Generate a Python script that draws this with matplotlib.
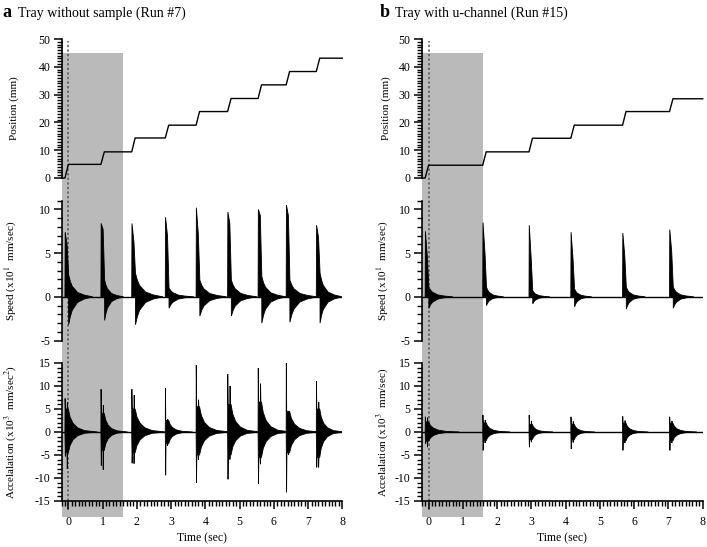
import numpy as np
import matplotlib.pyplot as plt
from matplotlib.ticker import MultipleLocator

plt.rcParams['font.family'] = ['Liberation Serif', 'DejaVu Serif']
plt.rcParams['mathtext.fontset'] = 'stix'
plt.rcParams['axes.unicode_minus'] = False

# (a) tray without sample, run #7 -- one entry per move of the tray
a_onset = [-0.1, 0.95, 1.85, 2.83, 3.73, 4.65, 5.54, 6.36, 7.24]
a_pos = [4.9, 9.4, 14.4, 19.0, 23.9, 28.6, 33.5, 38.3, 43.1]
a_spd_peak = [7.4, 8.4, 8.4, 9.1, 10.2, 9.7, 10.0, 10.5, 8.2]
a_spd_shoulder = [5.9, 7.7, 6.3, 7.0, 7.2, 8.4, 9.3, 9.3, 6.8]
a_spd_ring_up = [2.5, 1.9, 2.7, 1.0, 1.9, 1.9, 2.3, 1.9, 2.7]
a_spd_ring_dn = [-3.2, -2.7, -3.2, -1.3, -2.2, -2.2, -3.0, -2.9, -3.0]
a_spd_ring_len = [0.7, 0.55, 0.8, 0.73, 0.78, 0.75, 0.71, 0.8, 0.64]
a_acc_peak_up = [7.3, 9.3, 9.3, 9.5, 14.5, 12.6, 13.9, 15.0, 11.0]
a_acc_peak2_up = [6.5, 5.8, 8.0, 2.8, 7.0, 10.0, 10.5, 4.5, 6.5]
a_acc_peak_dn = [-5.3, -7.3, -6.8, -9.4, -11.0, -10.3, -11.3, -13.1, -7.7]
a_acc_peak2_dn = [-8.0, -8.2, -6.9, -3.0, -6.0, -6.0, -7.0, -5.0, -7.7]
a_acc_bulk_up = [5.0, 4.0, 5.0, 2.5, 5.5, 6.0, 6.5, 4.5, 5.0]
a_acc_bulk_dn = [-4.5, -4.0, -4.5, -2.5, -5.0, -5.0, -5.5, -4.5, -5.5]
a_acc_len = [0.85, 0.68, 0.9, 0.7, 0.9, 0.85, 0.85, 0.9, 0.72]

# (b) tray with u-channel, run #15
b_onset = [-0.1, 1.58, 2.93, 4.15, 5.66, 7.03]
b_pos = [4.6, 9.4, 14.3, 19.0, 23.9, 28.5]
b_spd_peak = [7.5, 8.5, 8.2, 7.4, 7.3, 7.7]
b_spd_shoulder = [4.5, 5.1, 4.3, 4.3, 4.7, 5.1]
b_spd_ring_up = [1.1, 1.1, 0.7, 0.9, 1.1, 1.1]
b_spd_ring_dn = [-1.3, -1.0, -0.8, -1.15, -1.4, -1.3]
b_spd_ring_len = [0.7, 0.5, 0.5, 0.5, 0.55, 0.6]
b_acc_peak_up = [3.3, 3.7, 3.7, 3.3, 3.4, 3.3]
b_acc_peak2_up = [3.1, 2.6, 2.4, 2.3, 2.5, 2.4]
b_acc_peak_dn = [-2.5, -4.0, -3.3, -3.7, -4.0, -4.0]
b_acc_peak2_dn = [-3.3, -2.4, -2.2, -2.3, -2.4, -2.4]
b_acc_bulk_up = [2.2, 2.0, 1.6, 1.7, 1.9, 1.9]
b_acc_bulk_dn = [-2.0, -1.9, -1.6, -1.7, -1.9, -1.9]
b_acc_len = [0.9, 0.7, 0.6, 0.6, 0.65, 0.7]

spd_decay_t = [0, 0.07, 0.15, 0.37, 0.65, 1.0]
spd_decay_f = [1, 0.7, 0.48, 0.2, 0.08, 0]
acc_decay_t = [0, 0.06, 0.16, 0.32, 0.56, 1.0]
acc_decay_f = [1, 0.65, 0.38, 0.18, 0.06, 0]

T0, T1 = -0.2, 8
RAMP = 0.1


def style_axis(ax, ylim, major, bottom=False):
    ax.set_facecolor('none')
    ax.set_xlim(T0, T1)
    ax.set_ylim(*ylim)
    ax.spines[['top', 'right']].set_visible(False)
    ax.spines['left'].set_linewidth(1.2)
    ax.yaxis.set_major_locator(MultipleLocator(major))
    ax.yaxis.set_minor_locator(MultipleLocator(1))
    ax.tick_params(axis='y', which='major', length=6, width=1.1, labelsize=8.5, pad=2)
    ax.tick_params(axis='y', which='minor', length=3.5, width=1.0)
    if bottom:
        ax.spines['bottom'].set_linewidth(1.2)
        ax.xaxis.set_major_locator(MultipleLocator(1))
        ax.xaxis.set_minor_locator(MultipleLocator(0.1))
        ax.tick_params(axis='x', which='major', length=6, width=1.1, labelsize=8.5, pad=5)
        ax.tick_params(axis='x', which='minor', length=3.5, width=1.0)
    else:
        ax.spines['bottom'].set_visible(False)
        ax.set_xticks([])


def draw_column(x0, w, title_x, letter, title, onset, pos, spk, shd, rup, rdn, rlen,
                apk_up, apk2_up, apk_dn, apk2_dn, abulk_up, abulk_dn, alen, acc_unit, lab_x):
    W, H = 707, 547
    bg = fig.add_axes([x0, 1 - 517 / H, w, (517 - 39) / H], zorder=0)
    bg.set_xlim(T0, T1)
    bg.set_ylim(0, 1)
    bg.axis('off')
    bg.axvspan(T0, 1.6, ymin=0, ymax=0.970, color='#bababa', lw=0)
    bg.axvline(0, ymin=0.0146, ymax=0.995, color='#555555', lw=1.1, ls=(0, (1.5, 1.5)))

    ax_p = fig.add_axes([x0, 0.6746, w, 0.2541], zorder=1)
    ax_s = fig.add_axes([x0, 0.3775, w, 0.2556], zorder=1)
    ax_a = fig.add_axes([x0, 0.0841, w, 0.2523], zorder=1)

    # position: staircase
    tp, yp, prev = [T0], [0], 0
    for t, lev in zip(onset, pos):
        tp += [t, t + RAMP]
        yp += [prev, lev]
        prev = lev
    tp.append(T1)
    yp.append(prev)
    ax_p.plot(tp, yp, color='black', lw=1.0, clip_on=False)

    # speed: spike then ringing
    ax_s.plot([T0, T1], [0, 0], color='black', lw=1.0)
    for t, pk, sh, up, dn, ln in zip(onset, spk, shd, rup, rdn, rlen):
        start = t + 0.11
        tu = [t, t, t + 0.008, t + 0.065, start]
        hu = [0, 0, pk, sh, up]
        tl = [t, start - 0.002, start]
        hl = [0, 0, dn]
        for r, f in zip(spd_decay_t[1:], spd_decay_f[1:]):
            tu.append(start + r * ln)
            hu.append(up * f)
            tl.append(start + r * ln)
            hl.append(dn * f)
        ax_s.fill(tu + tl[::-1], hu + hl[::-1], color='black', lw=0.6)

    # acceleration: two tall spikes then ringing
    ax_a.plot([T0, T1], [0, 0], color='black', lw=1.0)
    for t, pu, pu2, pd, pd2, bu, bd, ln in zip(onset, apk_up, apk2_up, apk_dn, apk2_dn,
                                               abulk_up, abulk_dn, alen):
        start = t + 0.1
        tu = [t, t + 0.005, t + 0.015, t + 0.065, t + 0.072, t + 0.082]
        hu = [0, pu, bu, bu, pu2, bu]
        tl = [t, t + 0.012, t + 0.022, t + 0.06, t + 0.068, t + 0.078]
        hl = [0, pd, bd, bd, pd2, bd]
        for r, f in zip(acc_decay_t, acc_decay_f):
            tu.append(start + r * ln)
            hu.append(bu * f)
            tl.append(start + r * ln)
            hl.append(bd * f)
        ax_a.fill(tu + tl[::-1], hu + hl[::-1], color='black', lw=0.6)

    style_axis(ax_p, (0, 50), 10)
    style_axis(ax_s, (-5, 11), 5)
    style_axis(ax_a, (-15, 15), 5, bottom=True)

    ax_p.set_ylabel('Position (mm)', fontsize=8)
    ax_s.set_ylabel('Speed (x10$^{1}$  mm/sec)', fontsize=8)
    ax_a.set_ylabel(acc_unit, fontsize=8)
    ax_a.set_xlabel('Time (sec)', fontsize=8.5, labelpad=3)
    for ax in (ax_p, ax_s, ax_a):
        ax.yaxis.set_label_coords(lab_x, 0.5)

    fig.text(title_x, 0.969, letter, fontsize=13, fontweight='bold', va='baseline')
    fig.text(title_x + 15 / W, 0.969, title, fontsize=10, va='baseline')


fig = plt.figure(figsize=(7.07, 5.47), dpi=100)

draw_column(0.0870, 0.3972, 0.004, 'a', 'Tray without sample (Run #7)',
            a_onset, a_pos, a_spd_peak, a_spd_shoulder, a_spd_ring_up, a_spd_ring_dn,
            a_spd_ring_len, a_acc_peak_up, a_acc_peak2_up, a_acc_peak_dn, a_acc_peak2_dn,
            a_acc_bulk_up, a_acc_bulk_dn, a_acc_len,
            'Accelalation (x10$^{3}$  mm/sec$^{2}$)', -0.15)
draw_column(0.5965, 0.3975, 0.5375, 'b', 'Tray with u-channel (Run #15)',
            b_onset, b_pos, b_spd_peak, b_spd_shoulder, b_spd_ring_up, b_spd_ring_dn,
            b_spd_ring_len, b_acc_peak_up, b_acc_peak2_up, b_acc_peak_dn, b_acc_peak2_dn,
            b_acc_bulk_up, b_acc_bulk_dn, b_acc_len,
            'Accelalation (x10$^{3}$  mm/sec)', -0.11)

fig.savefig('out.png', dpi=100)
